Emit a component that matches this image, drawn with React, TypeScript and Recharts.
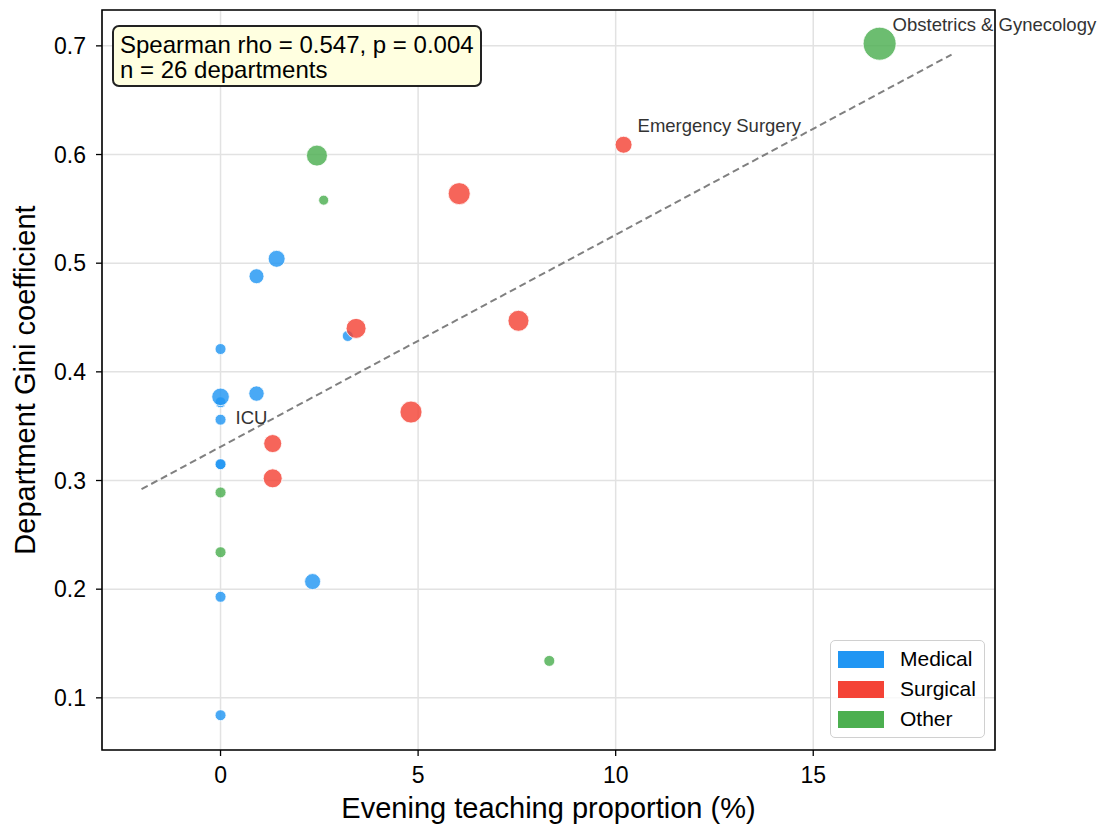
import React from "react";
import {
  ScatterChart,
  Scatter,
  XAxis,
  YAxis,
  ZAxis,
  CartesianGrid,
  ReferenceLine,
  ReferenceArea,
} from "recharts";

// categorías y colores
const categories = ["Medical", "Surgical", "Other"];
const categoryColors = ["#2196F3", "#F44336", "#4CAF50"];

// Medical
const medicalX = [0, 0, 2.33, 0, 0, 0, 0, 0, 0.91, 0, 3.22, 0.91, 1.42];
const medicalY = [0.084, 0.193, 0.207, 0.315, 0.315, 0.356, 0.372, 0.377, 0.38, 0.421, 0.433, 0.488, 0.504];
const medicalWeight = [30, 30, 64, 30, 30, 30, 30, 77, 59, 30, 30, 56, 72];

// Surgical
const surgicalX = [10.2, 6.04, 3.43, 7.54, 4.82, 1.32, 1.32];
const surgicalY = [0.609, 0.564, 0.44, 0.447, 0.363, 0.334, 0.302];
const surgicalWeight = [72, 121, 100, 110, 121, 81, 90];

// Other
const otherX = [16.68, 2.44, 2.61, 0, 0, 8.32];
const otherY = [0.702, 0.599, 0.558, 0.289, 0.234, 0.134];
const otherWeight = [272, 110, 25, 30, 30, 30];

// línea de tendencia
const trendX = [-2, 18.5];
const trendY = [0.292, 0.692];

// etiquetas de departamentos
const annotNames = ["Obstetrics & Gynecology", "Emergency Surgery", "ICU"];
const annotX = [16.68, 10.2, 0];
const annotY = [0.702, 0.609, 0.356];

const xTicks = [0, 5, 10, 15];
const yTicks = [0.1, 0.2, 0.3, 0.4, 0.5, 0.6, 0.7];

const statsLines = ["Spearman rho = 0.547, p = 0.004", "n = 26 departments"];

const FONT = "'Liberation Sans', Arial, sans-serif";
const LABEL_OFFSETS: Record<string, { dx: number; dy: number }> = {
  "Obstetrics & Gynecology": { dx: 13, dy: -13 },
  "Emergency Surgery": { dx: 14, dy: -13 },
  ICU: { dx: 15, dy: 4 },
};

const build = (xs: number[], ys: number[], ws: number[]) =>
  xs.map((x, i) => ({ x, y: ys[i], weight: ws[i] }));

const seriesData = [
  build(medicalX, medicalY, medicalWeight),
  build(surgicalX, surgicalY, surgicalWeight),
  build(otherX, otherY, otherWeight),
];

const annotData = annotNames.map((name, i) => ({ name, x: annotX[i], y: annotY[i] }));

const AnnotLabel = (props: any) => {
  const { cx, cy, payload } = props;
  const off = LABEL_OFFSETS[payload.name] ?? { dx: 10, dy: -10 };
  return (
    <text x={cx + off.dx} y={cy + off.dy} fontSize={18.5} fill="#333" fontFamily={FONT}>
      {payload.name}
    </text>
  );
};

export default function App() {
  return (
    <div style={{ position: "absolute", left: 0, top: 0, width: 1099, height: 826, background: "#fff" }}>
      <ScatterChart
        width={1099}
        height={826}
        margin={{ top: 10, right: 104, bottom: 6, left: 10 }}
        style={{ fontFamily: FONT }}
      >
        <CartesianGrid stroke="#e2e2e2" strokeWidth={1.5} />
        <XAxis
          type="number"
          dataKey="x"
          domain={[-3, 19.6]}
          ticks={xTicks}
          height={70}
          axisLine={false}
          tickSize={6}
          tickMargin={11}
          tickLine={{ stroke: "#000", strokeWidth: 1.3 }}
          tick={{ fontSize: 23, fill: "#000", fontFamily: FONT }}
          label={{
            value: "Evening teaching proportion (%)",
            position: "insideBottom",
            offset: 2,
            style: { fontSize: 29, fill: "#000", fontFamily: FONT },
          }}
        />
        <YAxis
          type="number"
          dataKey="y"
          domain={[0.052, 0.733]}
          ticks={yTicks}
          width={92}
          axisLine={false}
          tickSize={6}
          tickMargin={10}
          tickLine={{ stroke: "#000", strokeWidth: 1.3 }}
          tick={{ fontSize: 23, fill: "#000", fontFamily: FONT }}
          tickFormatter={(v: number) => v.toFixed(1)}
          label={{
            value: "Department Gini coefficient",
            angle: -90,
            position: "insideLeft",
            offset: 15,
            textAnchor: "middle",
            style: { fontSize: 29, fill: "#000", fontFamily: FONT, textAnchor: "middle" },
          }}
        />
        <ZAxis type="number" dataKey="weight" domain={[0, 300]} range={[0, 300 * Math.PI]} />
        <ReferenceArea
          x1={-3}
          x2={19.6}
          y1={0.052}
          y2={0.733}
          fill="none"
          stroke="#000"
          strokeWidth={1.6}
          ifOverflow="visible"
        />
        <ReferenceLine
          segment={[
            { x: trendX[0], y: trendY[0] },
            { x: trendX[1], y: trendY[1] },
          ]}
          stroke="#808080"
          strokeWidth={2}
          strokeDasharray="7 4"
          ifOverflow="visible"
        />
        {seriesData.map((data, i) => (
          <Scatter
            key={categories[i]}
            name={categories[i]}
            data={data}
            fill={categoryColors[i]}
            fillOpacity={0.82}
            stroke="#fff"
            strokeWidth={0.8}
            isAnimationActive={false}
          />
        ))}
        <Scatter data={annotData} shape={AnnotLabel} isAnimationActive={false} />
      </ScatterChart>

      {/* caja de estadísticas */}
      <div
        style={{
          position: "absolute",
          left: 112,
          top: 25,
          width: 370,
          height: 62,
          background: "#FFFFE0",
          border: "2px solid #222",
          borderRadius: 7,
          fontFamily: FONT,
          fontSize: 24,
          lineHeight: "25px",
          padding: "5px 0 0 6px",
          boxSizing: "border-box",
          color: "#000",
          whiteSpace: "nowrap",
        }}
      >
        {statsLines.map((l) => (
          <div key={l}>{l}</div>
        ))}
      </div>

      {/* leyenda */}
      <div
        style={{
          position: "absolute",
          left: 830,
          top: 640,
          width: 155,
          height: 98,
          background: "rgba(255,255,255,0.8)",
          border: "1.5px solid #d0d0d0",
          borderRadius: 5,
          boxSizing: "border-box",
          fontFamily: FONT,
        }}
      >
        {categories.map((c, i) => (
          <div
            key={c}
            style={{ position: "absolute", left: 7, top: 8 + i * 30, height: 20, display: "flex", alignItems: "center" }}
          >
            <div style={{ width: 46, height: 17, background: categoryColors[i] }} />
            <span style={{ marginLeft: 16, fontSize: 21, color: "#000" }}>{c}</span>
          </div>
        ))}
      </div>
    </div>
  );
}
